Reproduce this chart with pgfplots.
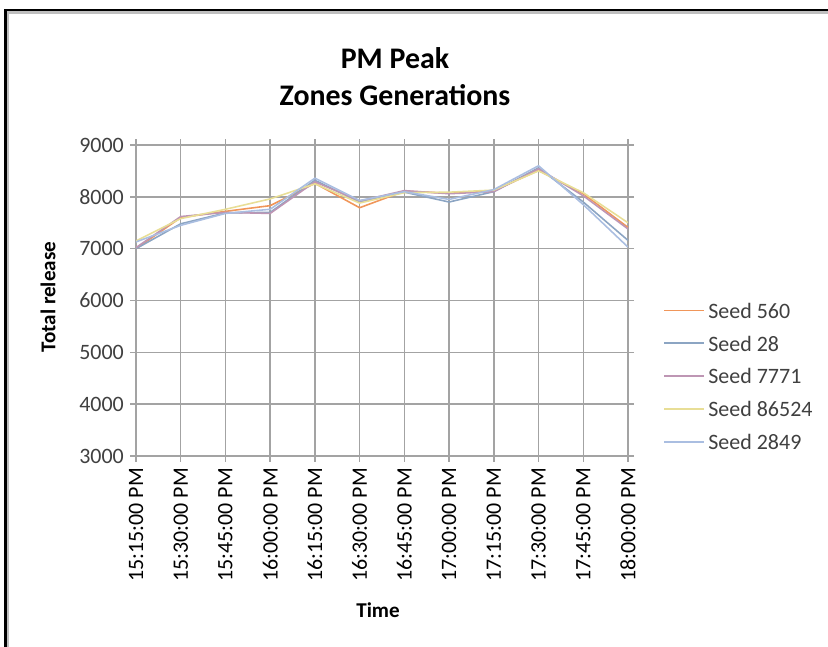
\documentclass[border=0pt]{standalone}
\usepackage{fontspec}
\setmainfont{Carlito}
\usepackage{pgfplots}
\pgfplotsset{compat=1.18}
\definecolor{gridGrey}{HTML}{A3A3A3}
\definecolor{textGrey}{HTML}{404040}
\definecolor{seedA}{RGB}{240,150,90}
\definecolor{seedB}{RGB}{140,165,195}
\definecolor{seedC}{RGB}{190,150,180}
\definecolor{seedD}{RGB}{232,222,150}
\definecolor{seedE}{RGB}{170,190,225}

\begin{document}
\begin{tikzpicture}
% page = 828 x 647 px, 1 px = 0.02cm, origin at top left
\path[use as bounding box] (0,0) rectangle (16.56cm,-12.94cm);
\draw[black!25,line width=1.2pt] (0.16cm,-12.94cm) -- (0.16cm,-0.25cm) -- (16.56cm,-0.25cm);
\draw[black,line width=1.3pt] (0.11cm,-12.94cm) -- (0.11cm,-0.2cm) -- (16.56cm,-0.2cm);
\node[font=\fontsize{17}{20}\selectfont\bfseries] at (7.9cm,-1.16cm) {PM Peak};
\node[font=\fontsize{17}{20}\selectfont\bfseries] at (7.9cm,-1.90cm) {Zones Generations};

\begin{axis}[
  at={(2.72cm,-9.12cm)}, anchor=south west,
  scale only axis, width=9.84cm, height=6.22cm,
  xmin=0, xmax=11, ymin=3000, ymax=9000,
  xtick={0,...,11},
  xticklabels={15:15:00 PM,15:30:00 PM,15:45:00 PM,16:00:00 PM,16:15:00 PM,16:30:00 PM,16:45:00 PM,17:00:00 PM,17:15:00 PM,17:30:00 PM,17:45:00 PM,18:00:00 PM},
  ytick={3000,4000,...,9000},
  /pgf/number format/assume math mode=true,
  /pgf/number format/set thousands separator={},
  xticklabel style={rotate=90,anchor=east,font=\fontsize{12.5}{15}\selectfont,color=black},
  yticklabel style={font=\fontsize{12.5}{15}\selectfont,color=textGrey},
  tick align=outside, major tick length=0.12cm,
  tick style={gridGrey,line width=0.8pt},
  axis line style={gridGrey,line width=0.8pt},
  grid=major, grid style={gridGrey,line width=0.8pt},
  xlabel={\bfseries Time},
  ylabel={\bfseries Total release},
  xlabel style={at={(axis description cs:0.492,-0.495)},anchor=center,font=\fontsize{12}{14}\selectfont},
  ylabel style={at={(axis description cs:-0.179,0.511)},anchor=center,font=\fontsize{12}{14}\selectfont},
  legend style={at={(axis description cs:1.071,0.257)},anchor=west,draw=none,fill=none,
    inner sep=0pt,row sep=9.7pt,
    nodes={inner sep=0pt,text height=9pt,text depth=0pt,font=\fontsize{12.5}{15}\selectfont,text=textGrey}},
  legend cell align={left},
  legend image code/.code={\draw[#1] (0cm,0cm) -- (0.8cm,0cm);},
  every axis plot/.append style={line width=0.9pt},
]
% Seed 560
\addplot[color=seedA] coordinates {
  (0,7000) (1,7600) (2,7720) (3,7830) (4,8260) (5,7790) (6,8110) (7,8070) (8,8120) (9,8510) (10,8060) (11,7410)
};
\addlegendentry{\hspace{2pt}Seed 560}
% Seed 28
\addplot[color=seedB] coordinates {
  (0,7000) (1,7480) (2,7690) (3,7700) (4,8320) (5,7900) (6,8090) (7,7900) (8,8100) (9,8560) (10,7900) (11,7160)
};
\addlegendentry{\hspace{2pt}Seed 28}
% Seed 7771
\addplot[color=seedC] coordinates {
  (0,7020) (1,7620) (2,7700) (3,7680) (4,8290) (5,7920) (6,8120) (7,8060) (8,8100) (9,8540) (10,8020) (11,7380)
};
\addlegendentry{\hspace{2pt}Seed 7771}
% Seed 86524
\addplot[color=seedD] coordinates {
  (0,7150) (1,7580) (2,7760) (3,7960) (4,8250) (5,7880) (6,8080) (7,8090) (8,8130) (9,8500) (10,8080) (11,7500)
};
\addlegendentry{\hspace{2pt}Seed 86524}
% Seed 2849
\addplot[color=seedE] coordinates {
  (0,7130) (1,7450) (2,7680) (3,7760) (4,8360) (5,7930) (6,8100) (7,7950) (8,8140) (9,8600) (10,7850) (11,7030)
};
\addlegendentry{\hspace{2pt}Seed 2849}
\end{axis}
\end{tikzpicture}
\end{document}
